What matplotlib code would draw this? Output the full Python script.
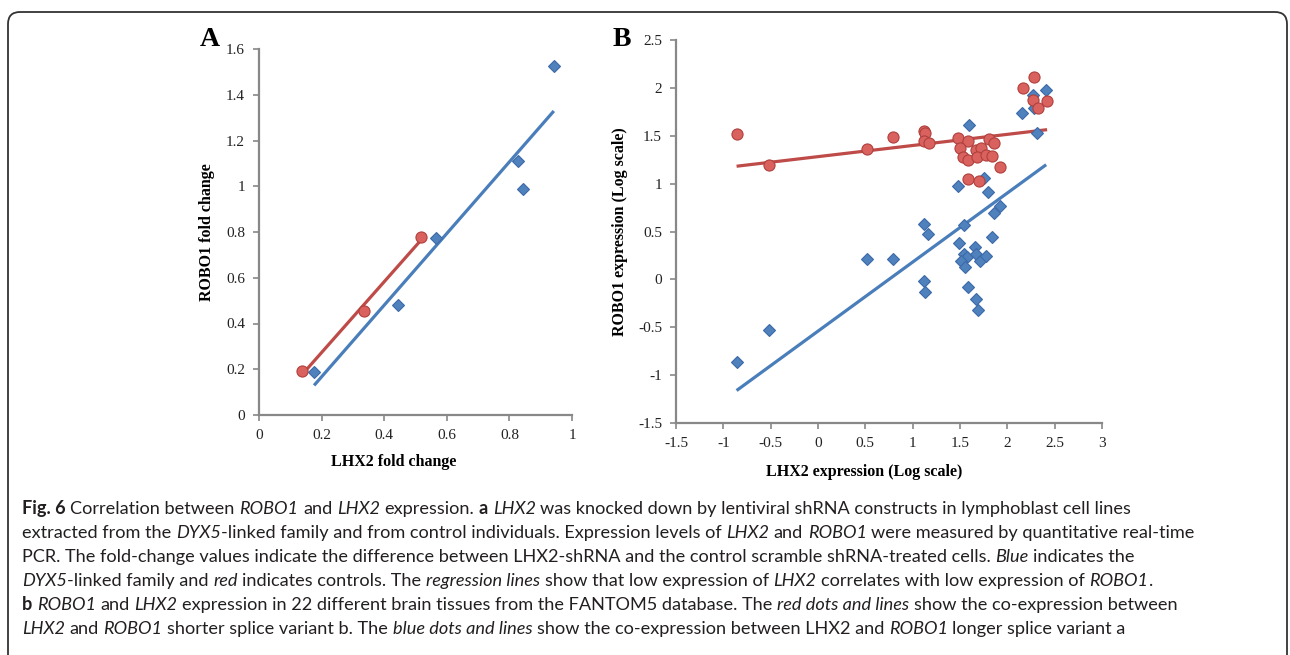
import numpy as np
import matplotlib
matplotlib.use("Agg")
from matplotlib import pyplot as plt
from matplotlib.patches import FancyBboxPatch
from matplotlib.transforms import IdentityTransform

plt.rcParams['axes.unicode_minus'] = False

# panel A: shRNA knock-down fold changes
a_blue_x = [0.176, 0.443, 0.566, 0.826, 0.842, 0.942]
a_blue_y = [0.186, 0.480, 0.775, 1.112, 0.987, 1.526]
a_red_x = [0.138, 0.337, 0.517]
a_red_y = [0.191, 0.456, 0.779]
a_xticks = [0, 0.2, 0.4, 0.6, 0.8, 1]
a_yticks = [0, 0.2, 0.4, 0.6, 0.8, 1, 1.2, 1.4, 1.6]

# panel B: FANTOM5 brain tissues (log scale)
b_red_x = [-0.86, -0.52, 0.52, 0.79, 1.12, 1.13, 1.12, 1.17, 1.48, 1.58, 1.81, 1.86,
           1.50, 1.67, 1.72, 1.53, 1.58, 1.68, 1.77, 1.84, 1.92, 1.58, 1.70,
           2.17, 2.28, 2.27, 2.32, 2.42]
b_red_y = [1.52, 1.19, 1.36, 1.49, 1.55, 1.53, 1.44, 1.42, 1.48, 1.44, 1.47, 1.42,
           1.37, 1.35, 1.37, 1.28, 1.25, 1.28, 1.30, 1.29, 1.17, 1.05, 1.03,
           2.00, 2.11, 1.87, 1.79, 1.86]
b_blue_x = [-0.86, -0.52, 0.52, 0.79, 1.12, 1.16, 1.12, 1.13, 1.59, 1.75, 1.48, 1.80,
            1.92, 1.86, 1.54, 1.49, 1.84, 1.66, 1.54, 1.57, 1.51, 1.55, 1.67, 1.71,
            1.77, 1.58, 1.67, 1.69, 2.16, 2.27, 2.28, 2.31, 2.41]
b_blue_y = [-0.86, -0.53, 0.21, 0.21, 0.58, 0.47, -0.02, -0.13, 1.61, 1.06, 0.98, 0.91,
            0.77, 0.69, 0.57, 0.38, 0.44, 0.34, 0.27, 0.23, 0.19, 0.13, 0.26, 0.19,
            0.24, -0.08, -0.20, -0.32, 1.74, 1.93, 1.79, 1.53, 1.98]
b_xticks = [-1.5, -1, -0.5, 0, 0.5, 1, 1.5, 2, 2.5, 3]
b_yticks = [-1.5, -1, -0.5, 0, 0.5, 1, 1.5, 2, 2.5]

BLUE = '#4F81BD'
BLUE_EDGE = '#3C6AA8'
BLUE_LINE = '#4A7EBB'
RED = '#D9625E'
RED_EDGE = '#B0403D'
RED_LINE = '#BE4B48'
SERIF = 'Liberation Serif'

W, H = 1290, 655
fig = plt.figure(figsize=(W / 100, H / 100), dpi=100)


def style_axes(ax, xt, yt, xl, yl):
    for s in ['top', 'right']:
        ax.spines[s].set_visible(False)
    for s in ['left', 'bottom']:
        ax.spines[s].set_color('#888888')
        ax.spines[s].set_linewidth(1.6)
    ax.set_xticks(xt)
    ax.set_yticks(yt)
    ax.set_xticklabels(['%g' % v for v in xt], fontfamily=SERIF, fontsize=11)
    ax.set_yticklabels(['%g' % v for v in yt], fontfamily=SERIF, fontsize=11)
    ax.tick_params(direction='out', length=4, width=1.2, color='#888888',
                   labelcolor='#222222', pad=6)
    ax.set_xlim(xl)
    ax.set_ylim(yl)


def trend(ax, x, y, color):
    k, b = np.polyfit(x, y, 1)
    xs = np.array([min(x), max(x)])
    ax.plot(xs, k * xs + b, color=color, lw=2.3, solid_capstyle='butt', zorder=2)


# ---- panel A
axA = fig.add_axes([259 / W, 1 - 415 / H, 313 / W, 366 / H])
style_axes(axA, a_xticks, a_yticks, (0, 1), (0, 1.6))
trend(axA, a_blue_x, a_blue_y, BLUE_LINE)
trend(axA, a_red_x, a_red_y, RED_LINE)
axA.plot(a_blue_x, a_blue_y, 'D', ms=6, mfc=BLUE, mec=BLUE_EDGE, mew=0.8, zorder=3)
axA.plot(a_red_x, a_red_y, 'o', ms=8, mfc=RED, mec=RED_EDGE, mew=0.8, zorder=3)
axA.set_xlabel('LHX2 fold change', fontfamily=SERIF, fontweight='bold', fontsize=11.5,
               x=0.431, labelpad=9)
axA.set_ylabel('ROBO1 fold change', fontfamily=SERIF, fontweight='bold', fontsize=11.5,
               labelpad=8)
fig.text(210 / W, 1 - 40 / H, 'A', fontfamily=SERIF, fontweight='bold', fontsize=20,
         ha='center', va='center')

# ---- panel B
axB = fig.add_axes([676 / W, 1 - 423 / H, 426 / W, 383 / H])
style_axes(axB, b_xticks, b_yticks, (-1.5, 3), (-1.5, 2.5))
trend(axB, b_red_x, b_red_y, RED_LINE)
trend(axB, b_blue_x, b_blue_y, BLUE_LINE)
axB.plot(b_blue_x, b_blue_y, 'D', ms=6, mfc=BLUE, mec=BLUE_EDGE, mew=0.8, zorder=3)
axB.plot(b_red_x, b_red_y, 'o', ms=8, mfc=RED, mec=RED_EDGE, mew=0.8, zorder=4)
axB.set_xlabel('LHX2 expression (Log scale)', fontfamily=SERIF, fontweight='bold',
               fontsize=11.5, x=0.441, labelpad=10)
axB.set_ylabel('ROBO1 expression (Log scale)', fontfamily=SERIF, fontweight='bold',
               fontsize=11.5, labelpad=7)
fig.text(622 / W, 1 - 40 / H, 'B', fontfamily=SERIF, fontweight='bold', fontsize=20,
         ha='center', va='center')

# ---- frame round the figure
frame = FancyBboxPatch((8, -40), 1279, H - 12 + 40,
                       boxstyle='round,pad=0,rounding_size=12',
                       transform=IdentityTransform(), fill=False,
                       edgecolor='#333333', lw=1.3)
fig.patches.append(frame)

# ---- caption
N, I, B = 'n', 'i', 'b'
caption = [
    [('Fig. 6', B), (' Correlation between ', N), ('ROBO1', I), (' and ', N), ('LHX2', I),
     (' expression. ', N), ('a', B), (' ', N), ('LHX2', I),
     (' was knocked down by lentiviral shRNA constructs in lymphoblast cell lines', N)],
    [('extracted from the ', N), ('DYX5', I),
     ('-linked family and from control individuals. Expression levels of ', N),
     ('LHX2', I), (' and ', N), ('ROBO1', I), (' were measured by quantitative real-time', N)],
    [('PCR. The fold-change values indicate the difference between LHX2-shRNA and the '
      'control scramble shRNA-treated cells. ', N), ('Blue', I), (' indicates the', N)],
    [('DYX5', I), ('-linked family and ', N), ('red', I), (' indicates controls. The ', N),
     ('regression lines', I), (' show that low expression of ', N), ('LHX2', I),
     (' correlates with low expression of ', N), ('ROBO1', I), ('.', N)],
    [('b', B), (' ', N), ('ROBO1', I), (' and ', N), ('LHX2', I),
     (' expression in 22 different brain tissues from the FANTOM5 database. The ', N),
     ('red dots and lines', I), (' show the co-expression between', N)],
    [('LHX2', I), (' and ', N), ('ROBO1', I), (' shorter splice variant b. The ', N),
     ('blue dots and lines', I), (' show the co-expression between LHX2 and ', N),
     ('ROBO1', I), (' longer splice variant a', N)],
]
CAP_FONT = 'Lato'
CAP_SIZE = 13.1
renderer = fig.canvas.get_renderer()


def kw(st):
    return dict(fontfamily=CAP_FONT, fontsize=CAP_SIZE, color='#231F20',
                fontweight='bold' if st == B else 'normal',
                fontstyle='italic' if st == I else 'normal')


def text_w(s, st):
    t = fig.text(0, 0, s, **kw(st))
    w = t.get_window_extent(renderer).width
    t.remove()
    return w


space_w = {st: text_w('a a', st) - text_w('aa', st) for st in (N, I, B)}

y0 = 514
for row in caption:
    x = 22
    for seg, st in row:
        core = seg.strip(' ')
        if not core:
            x += len(seg) * space_w[N]
            continue
        lead = len(seg) - len(seg.lstrip(' '))
        trail = len(seg) - len(seg.rstrip(' '))
        x += lead * space_w[st]
        t = fig.text(x / W, 1 - y0 / H, core, va='baseline', **kw(st))
        x += t.get_window_extent(renderer).width
        x += trail * space_w[st]
    y0 += 24

fig.savefig('out.png', dpi=100)
